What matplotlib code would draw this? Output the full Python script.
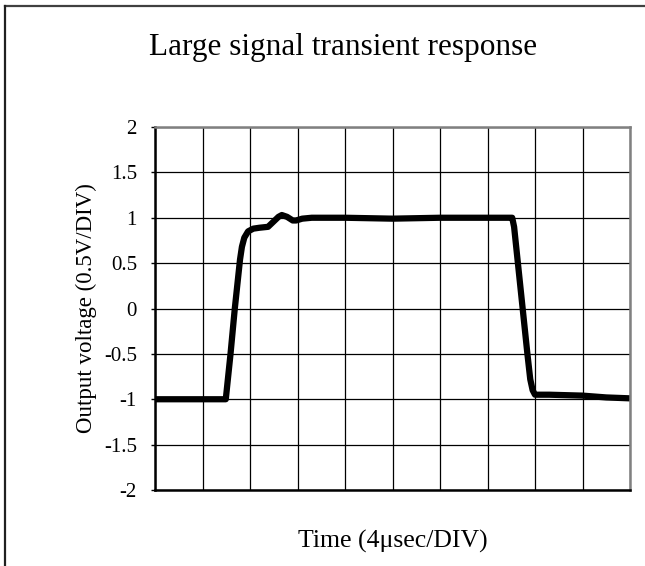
# Large signal transient response - scope trace redrawn with matplotlib

import numpy as np
import matplotlib.pyplot as plt
from matplotlib.lines import Line2D

# Data (x in divisions, y in volts)
time_div = [0, 1.49, 1.59, 1.68, 1.79, 1.83, 1.88, 1.96, 2.07, 2.2, 2.38, 2.5, 2.6, 2.67,
            2.78, 2.9, 2.97, 3.1, 3.3, 4.0, 5.0, 6.0, 7.0, 7.45, 7.52, 7.56, 7.74, 7.84,
            7.9, 7.95, 8.0, 8.3, 9.0, 9.5, 10.0]
volts = [-1.0, -1.0, -0.5, 0.0, 0.54, 0.68, 0.78, 0.85, 0.88, 0.89, 0.90, 0.96, 1.01, 1.03,
         1.01, 0.97, 0.97, 0.99, 1.0, 1.0, 0.99, 1.0, 1.0, 1.0, 1.0, 0.9, 0.0, -0.5,
         -0.78, -0.9, -0.95, -0.95, -0.96, -0.98, -0.99]

y_ticks = [2, 1.5, 1, 0.5, 0, -0.5, -1, -1.5, -2]
y_tick_labels = ['2', '1.5', '1', '0.5', '0', '-0.5', '-1', '-1.5', '-2']

plt.rcParams['font.family'] = ['Liberation Serif', 'DejaVu Serif']

fig = plt.figure(figsize=(6.45, 5.66), dpi=100)
ax = fig.add_axes([155 / 645, 76 / 566, 475 / 645, 363 / 566])

# the trace itself
ax.plot(time_div, volts, color='black', linewidth=4.5, solid_capstyle='butt')

ax.set_xlim(0, 10)
ax.set_ylim(-2, 2)
ax.set_xticks(np.arange(0, 11, 1))
ax.set_xticklabels([])
ax.set_yticks(y_ticks)
ax.set_yticklabels(y_tick_labels, fontsize=15)
ax.tick_params(axis='x', length=0)
ax.tick_params(axis='y', direction='out', length=3, width=1, pad=10)
ax.grid(True, color='black', linewidth=0.9)

# frame: left/bottom black, top/right grey like the original
ax.spines['left'].set_color('black')
ax.spines['bottom'].set_color('black')
ax.spines['top'].set_color('#808080')
ax.spines['right'].set_color('#808080')
for s in ax.spines.values():
    s.set_linewidth(1.8)

ax.set_ylabel('Output voltage (0.5V/DIV)', fontsize=16.5, labelpad=5)
ax.set_xlabel('Time (4\u03bcsec/DIV)', fontsize=18.5, labelpad=25)

fig.text(343 / 645, 1 - 48 / 566, 'Large signal transient response', fontsize=22.5,
         ha='center', va='center')

# border: only top and left edges show in the original
fig.add_artist(Line2D([4.5 / 645, 1], [1 - 5.5 / 566, 1 - 5.5 / 566], transform=fig.transFigure,
                      color='#404040', linewidth=1.6))
fig.add_artist(Line2D([4.5 / 645, 4.5 / 645], [0, 1 - 5.5 / 566], transform=fig.transFigure,
                      color='#202020', linewidth=1.6))

plt.savefig('out.png', dpi=100)
